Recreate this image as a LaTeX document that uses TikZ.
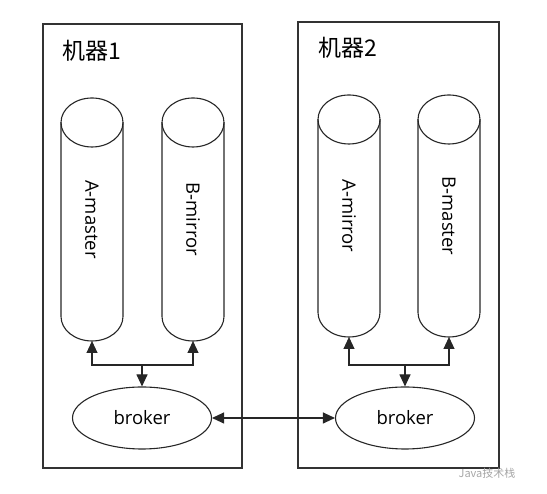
\documentclass[tikz,border=0pt]{standalone}
\usepackage{fontspec}
\setmainfont{Open Sans}
\newfontfamily\cjk{Noto Sans CJK SC}
\usepackage{tikz}
\usetikzlibrary{arrows.meta,positioning,shapes.geometric}

\begin{document}
\begin{tikzpicture}[
  x=1pt, y=1pt,
  line width=1.1pt,
  machine/.style={draw=black!80},
  title/.style={font=\cjk\fontsize{23}{27}\selectfont},
  cyl/.style={draw=black!85},
  cyllabel/.style={rotate=-90, font=\fontsize{18.5}{22}\selectfont},
  brk/.style={draw=black!85, ellipse, minimum width=139pt, minimum height=62pt, inner sep=0pt, font=\fontsize{18.5}{22}\selectfont},
  arr/.style={-{Triangle[length=12pt,width=11pt]}, black!85},
  darr/.style={{Triangle[length=12pt,width=11pt]}-{Triangle[length=12pt,width=11pt]}, black!85},
]
\useasboundingbox (0,0) rectangle (547,494);

% machines
\draw[machine] (43,26) rectangle (242,470);
\draw[machine] (298,26) rectangle (499,472);
\node[title] (t1) at (92,443) {机器1};
\node[title] (t2) at (348,446) {机器2};

% cylinders: name / centre x / top y / bottom y / label
\foreach \n/\cx/\ty/\by/\txt in {c1/92/371.5/177.5/A-master, c2/193/371.5/177.5/B-mirror,
                                 c3/349/374.5/181.5/A-mirror, c4/449/374.5/181.5/B-master}{
  \draw[cyl] (\cx,\ty) ellipse [x radius=31pt, y radius=24.5pt];
  \draw[cyl] (\cx-31,\ty) -- (\cx-31,\by) arc[start angle=180, end angle=360, x radius=31pt, y radius=24.5pt] -- (\cx+31,\ty);
  \node[cyllabel] (\n-lbl) at (\cx,{(\ty+\by)/2}) {\txt};
  \coordinate (\n) at (\cx,\by-24.5);
}

% brokers
\node[brk] (b1) at (142,76) {broker};
\node[brk] (b2) at (405,76) {broker};
\coordinate (j1) at (142,129);
\coordinate (j2) at (405,129);

\draw[darr] (c1) |- (j1) -| (c2);
\draw[arr] (j1) -- (b1);
\draw[darr] (c3) |- (j2) -| (c4);
\draw[arr] (j2) -- (b2);
\draw[darr] (b1) -- (b2);

% watermark
\node[font=\cjk\fontsize{11}{13}\selectfont, text=black!35] (wm) at (487,21) {Java技术栈};
\end{tikzpicture}
\end{document}
